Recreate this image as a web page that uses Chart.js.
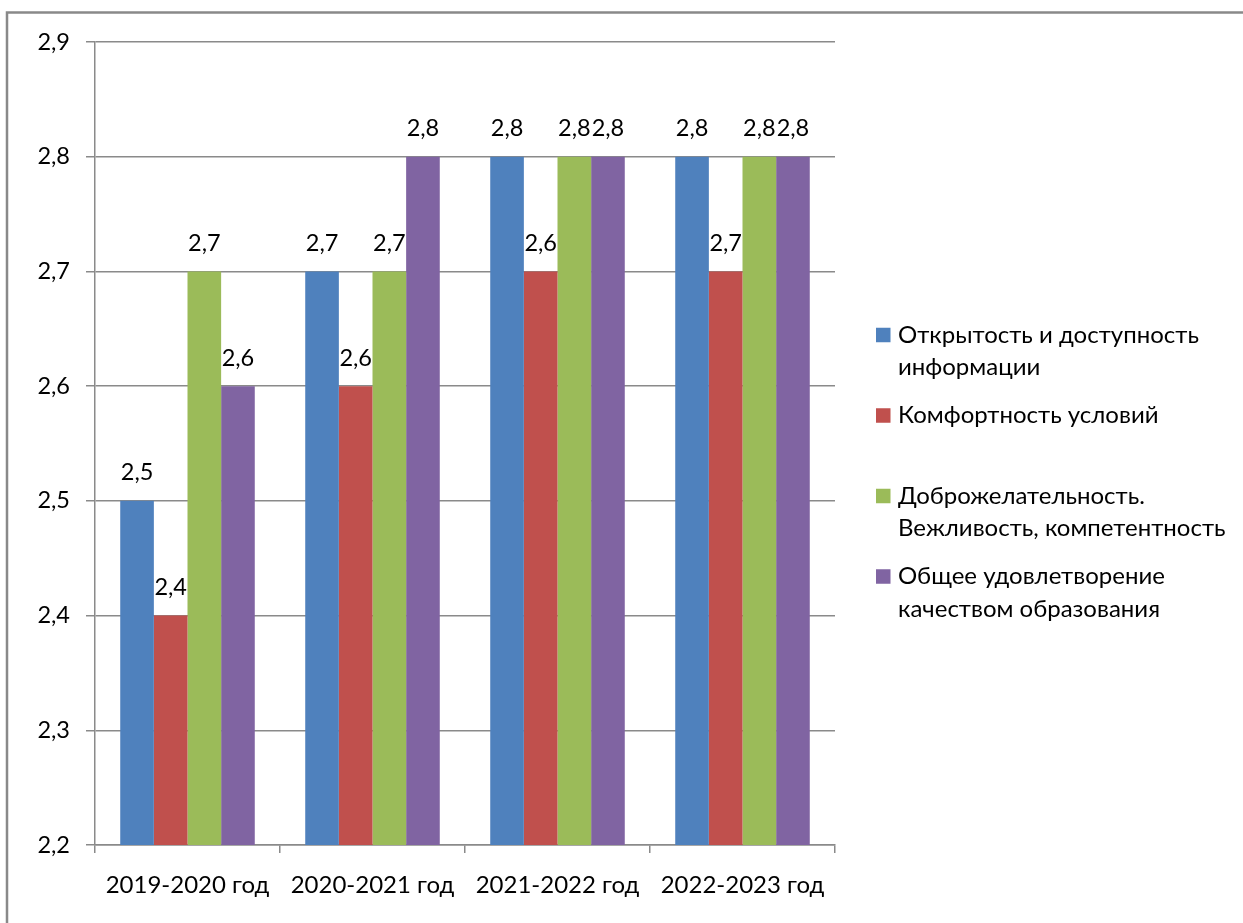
<!DOCTYPE html>
<html>
<head>
<meta charset="utf-8">
<script src="https://cdn.jsdelivr.net/npm/chart.js@4"></script>
<style>
html,body{margin:0;padding:0;background:#fff;}
#wrap{position:relative;width:1243px;height:923px;}
</style>
</head>
<body>
<div id="wrap"><canvas id="c" width="1243" height="923"></canvas></div>
<script>
const categories = ["2019-2020 год", "2020-2021 год", "2021-2022 год", "2022-2023 год"];
const seriesNames = [
  ["Открытость и доступность", "информации"],
  ["Комфортность условий"],
  ["Доброжелательность.", "Вежливость, компетентность"],
  ["Общее удовлетворение", "качеством образования"]
];
const openness = [2.5, 2.7, 2.8, 2.8];
const comfort = [2.4, 2.6, 2.7, 2.7];
const friendliness = [2.7, 2.7, 2.8, 2.8];
const overall = [2.6, 2.8, 2.8, 2.8];
const opennessLabels = ["2,5", "2,7", "2,8", "2,8"];
const comfortLabels = ["2,4", "2,6", "2,6", "2,7"];
const friendlinessLabels = ["2,7", "2,7", "2,8", "2,8"];
const overallLabels = ["2,6", "2,8", "2,8", "2,8"];
const yTicks = [2.2, 2.3, 2.4, 2.5, 2.6, 2.7, 2.8, 2.9];

const colors = ["#4F81BD", "#C0504D", "#9BBB59", "#8064A2"];
const FONT = "Lato";
const FS = 24;
const FS_NUM = 23.5;
const GRID = "#8a8a8a";

const allValues = [openness, comfort, friendliness, overall];
const allLabels = [opennessLabels, comfortLabels, friendlinessLabels, overallLabels];

const datasets = allValues.map((vals, i) => ({
  label: seriesNames[i].join(" "),
  legendLines: seriesNames[i],
  valueLabels: allLabels[i],
  data: vals,
  backgroundColor: colors[i],
  borderWidth: 0,
  categoryPercentage: 4 / 5.5,
  barPercentage: 1.0
}));

const framePlugin = {
  id: "frame",
  beforeDraw(chart) {
    const ctx = chart.ctx;
    ctx.save();
    ctx.fillStyle = "#fff";
    ctx.fillRect(0, 0, chart.width, chart.height);
    ctx.strokeStyle = "#898989";
    ctx.lineWidth = 2.5;
    ctx.beginPath();
    ctx.moveTo(7, chart.height + 5);
    ctx.lineTo(7, 12.5);
    ctx.lineTo(chart.width + 5, 12.5);
    ctx.stroke();
    ctx.restore();
  }
};

const valueLabelPlugin = {
  id: "valueLabels",
  afterDatasetsDraw(chart) {
    const ctx = chart.ctx;
    ctx.save();
    ctx.font = FS_NUM + "px " + FONT;
    ctx.fillStyle = "#000";
    ctx.textAlign = "center";
    ctx.textBaseline = "middle";
    chart.data.datasets.forEach((ds, di) => {
      const meta = chart.getDatasetMeta(di);
      meta.data.forEach((bar, j) => {
        ctx.fillText(ds.valueLabels[j], bar.x, bar.y - 28);
      });
    });
    ctx.restore();
  }
};

const legendPlugin = {
  id: "sideLegend",
  afterDraw(chart) {
    const ctx = chart.ctx;
    ctx.save();
    ctx.font = FS + "px " + FONT;
    ctx.textAlign = "left";
    ctx.textBaseline = "middle";
    const boxX = 876, textX = 898, firstY = 335, itemGap = 80.5, lineGap = 32.5, box = 14.5;
    chart.data.datasets.forEach((ds, i) => {
      const y = firstY + i * itemGap;
      ctx.fillStyle = ds.backgroundColor;
      ctx.fillRect(boxX, y - box / 2, box, box);
      ctx.fillStyle = "#000";
      ds.legendLines.forEach((line, k) => {
        ctx.fillText(line, textX, y + k * lineGap);
      });
    });
    ctx.restore();
  }
};

new Chart(document.getElementById("c"), {
  type: "bar",
  data: { labels: categories, datasets },
  plugins: [framePlugin, valueLabelPlugin, legendPlugin],
  options: {
    responsive: false,
    animation: false,
    devicePixelRatio: 1,
    layout: { padding: { left: 0, right: 408, top: 42, bottom: 0 } },
    plugins: { legend: { display: false }, tooltip: { enabled: false } },
    scales: {
      x: {
        afterFit(scale) { scale.height = 78; },
        grid: {
          offset: true,
          drawOnChartArea: false,
          drawTicks: true,
          tickLength: 8,
          color: GRID,
          lineWidth: 1.5
        },
        border: { display: true, color: GRID, width: 1.5 },
        ticks: {
          color: "#000",
          font: { family: FONT, size: FS },
          padding: 17.5,
          maxRotation: 0
        }
      },
      y: {
        min: yTicks[0],
        max: yTicks[yTicks.length - 1],
        afterFit(scale) { scale.width = 95; },
        afterBuildTicks(scale) { scale.ticks = yTicks.map(v => ({ value: v })); },
        grid: {
          color: GRID,
          lineWidth: 1.5,
          tickLength: 9,
          drawTicks: true
        },
        border: { display: true, color: GRID, width: 1.5 },
        ticks: {
          color: "#000",
          font: { family: FONT, size: FS_NUM },
          padding: 16,
          callback: (v) => Number(v).toFixed(1).replace(".", ",")
        }
      }
    }
  }
});
</script>
</body>
</html>
